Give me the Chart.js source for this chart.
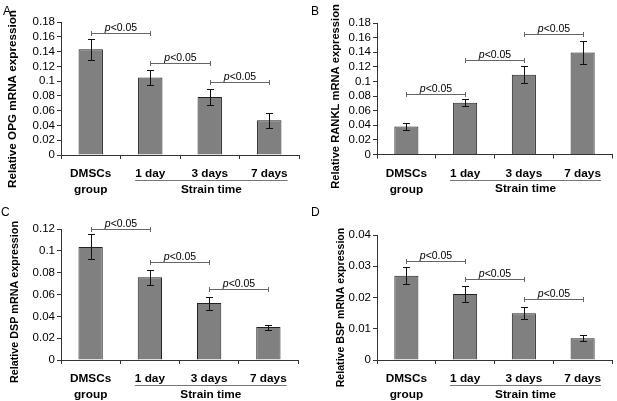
<!DOCTYPE html>
<html>
<head>
<meta charset="utf-8">
<script src="https://cdn.jsdelivr.net/npm/chart.js@4.4.0/dist/chart.umd.min.js"></script>
<style>
    html, body { margin: 0; padding: 0; background: #fff; }
    #wrap { position: relative; width: 617px; height: 401px; overflow: hidden; font-family: "Liberation Sans", Arial, sans-serif; }
    #wrap canvas { position: absolute; }
    .tag { position: absolute; font-size: 12px; line-height: 12px; color: #000; }
</style>
</head>
<body>
<div id="wrap">
    <canvas id="chartA" style="left:0;top:0" width="308" height="200"></canvas>
    <canvas id="chartB" style="left:308px;top:0" width="309" height="200"></canvas>
    <canvas id="chartC" style="left:0;top:200px" width="308" height="201"></canvas>
    <canvas id="chartD" style="left:308px;top:200px" width="309" height="201"></canvas>
    <div class="tag" style="left:3px;top:5px">A</div>
    <div class="tag" style="left:311px;top:5px">B</div>
    <div class="tag" style="left:1px;top:206px">C</div>
    <div class="tag" style="left:311px;top:206px">D</div>
</div>
<script>
// groups on the x axis
const categories = [['DMSCs', 'group'], '1 day', '3 days', '7 days'];
const groupTitle = 'Strain time';
const pLabel = '<0.05';

// A - OPG
const opgValues = [0.143, 0.105, 0.0785, 0.047];
const opgErrors = [0.0145, 0.0097, 0.0111, 0.0098];
const opgBrackets = [0.1655, 0.125, 0.099];   // height of p bracket between group i and i+1

// B - RANKL
const ranklValues = [0.0382, 0.0709, 0.109, 0.1395];
const ranklErrors = [0.0045, 0.0048, 0.0116, 0.0152];
const ranklBrackets = [0.0823, 0.129, 0.165];

// C - DSP
const dspValues = [0.1036, 0.0758, 0.0521, 0.0302];
const dspErrors = [0.0115, 0.0069, 0.006, 0.0023];
const dspBrackets = [0.1203, 0.0899, 0.0646];

// D - BSP
const bspValues = [0.027, 0.0211, 0.015, 0.007];
const bspErrors = [0.0028, 0.0025, 0.002, 0.001];
const bspBrackets = [0.0318, 0.0259, 0.0195];

Chart.defaults.font.family = '"Liberation Sans", Arial, sans-serif';
Chart.defaults.color = '#000';

const labelFont = 11.8;

// error bars, p<0.05 brackets, "Strain time" underline and y title
const annotate = {
    id: 'annotate',
    afterDraw(chart, args, opts) {
        const ctx = chart.ctx;
        const x = chart.scales.x, y = chart.scales.y;
        const meta = chart.getDatasetMeta(0);
        const data = chart.data.datasets[0].data;
        const fam = Chart.defaults.font.family;
        const crisp = v => Math.round(v) + 0.5;
        ctx.save();

        ctx.strokeStyle = '#111';
        ctx.lineWidth = 1;
        opts.errors.forEach(function (e, i) {
            const px = crisp(meta.data[i].x);
            const t = crisp(y.getPixelForValue(data[i] + e));
            const b = crisp(y.getPixelForValue(data[i] - e));
            ctx.beginPath();
            ctx.moveTo(px, t); ctx.lineTo(px, b);
            ctx.moveTo(px - 3.5, t); ctx.lineTo(px + 3.5, t);
            ctx.moveTo(px - 3.5, b); ctx.lineTo(px + 3.5, b);
            ctx.stroke();
        });

        ctx.strokeStyle = '#666';
        ctx.fillStyle = '#000';
        ctx.textBaseline = 'alphabetic';
        opts.brackets.forEach(function (h, i) {
            const x1 = crisp(x.getPixelForValue(i)), x2 = crisp(x.getPixelForValue(i + 1));
            const py = crisp(y.getPixelForValue(h));
            ctx.beginPath();
            ctx.moveTo(x1, py); ctx.lineTo(x2, py);
            ctx.moveTo(x1, py - 2.5); ctx.lineTo(x1, py + 2.5);
            ctx.moveTo(x2, py - 2.5); ctx.lineTo(x2, py + 2.5);
            ctx.stroke();
            ctx.font = 'italic 10.5px ' + fam;
            const wp = ctx.measureText('p').width;
            ctx.font = '10.5px ' + fam;
            const wr = ctx.measureText(pLabel).width;
            const sx = (x1 + x2) / 2 - (wp + wr) / 2;
            ctx.font = 'italic 10.5px ' + fam;
            ctx.fillText('p', sx, py - 2.5);
            ctx.font = '10.5px ' + fam;
            ctx.fillText(pLabel, sx + wp, py - 2.5);
        });

        // underline below the strain-time groups
        ctx.font = 'bold ' + labelFont + 'px ' + fam;
        const first = categories[1], last = categories[categories.length - 1];
        const lx1 = x.getPixelForValue(1) - ctx.measureText(first).width / 2;
        const lx2 = x.getPixelForValue(categories.length - 1) + ctx.measureText(last).width / 2;
        const ly = crisp(chart.chartArea.bottom + 25);
        ctx.strokeStyle = '#777';
        ctx.beginPath();
        ctx.moveTo(lx1, ly); ctx.lineTo(lx2, ly);
        ctx.stroke();
        ctx.textAlign = 'center';
        ctx.textBaseline = 'middle';
        ctx.fillText(groupTitle, (lx1 + lx2) / 2, chart.chartArea.bottom + 34.5);

        // rotated y title
        ctx.translate(opts.titleX, opts.titleY);
        ctx.rotate(-Math.PI / 2);
        ctx.font = 'bold ' + opts.titleSize + 'px ' + fam;
        ctx.fillText(opts.title, 0, 0);
        ctx.restore();
    }
};

function makePanel(id, values, errors, brackets, title, yMax, yStep, box) {
    const el = document.getElementById(id);
    return new Chart(el.getContext('2d'), {
        type: 'bar',
        data: {
            labels: categories,
            datasets: [{
                data: values,
                backgroundColor: '#808080',
                borderColor: '#222',
                borderWidth: 1,
                barPercentage: 0.41,
                categoryPercentage: 1
            }]
        },
        plugins: [annotate],
        options: {
            responsive: false,
            animation: false,
            layout: { padding: { top: box.top, right: box.right, left: 0, bottom: 0 } },
            plugins: {
                legend: { display: false },
                tooltip: { enabled: false },
                annotate: {
                    errors: errors,
                    brackets: brackets,
                    title: title,
                    titleX: box.titleX,
                    titleY: box.titleY,
                    titleSize: box.titleSize
                }
            },
            scales: {
                x: {
                    grid: { drawOnChartArea: false, drawTicks: true, tickLength: 4, color: '#333', offset: true },
                    border: { color: '#333' },
                    ticks: { font: { size: labelFont, weight: 'bold', lineHeight: 1.35 }, padding: 7, maxRotation: 0, autoSkip: false },
                    afterFit: function (s) { s.height = box.xHeight; }
                },
                y: {
                    min: 0,
                    max: yMax,
                    grid: { drawOnChartArea: false, tickLength: 4, color: '#333' },
                    border: { color: '#333' },
                    ticks: {
                        stepSize: yStep,
                        autoSkip: false,
                        font: { size: 11.5 },
                        padding: 2,
                        callback: function (v) { return String(+v.toFixed(3)); }
                    },
                    afterFit: function (s) { s.width = box.left; }
                }
            }
        }
    });
}

makePanel('chartA', opgValues, opgErrors, opgBrackets, 'Relative OPG mRNA expression', 0.18, 0.02,
    { top: 22, right: 9, left: 61, xHeight: 45, titleX: 13, titleY: 99, titleSize: 11.7 });
makePanel('chartB', ranklValues, ranklErrors, ranklBrackets, 'Relative RANKL mRNA expression', 0.18, 0.02,
    { top: 23, right: 5, left: 69, xHeight: 45.5, titleX: 27.5, titleY: 96.5, titleSize: 11.2 });
makePanel('chartC', dspValues, dspErrors, dspBrackets, 'Relative DSP mRNA expression', 0.12, 0.02,
    { top: 29, right: 10, left: 61, xHeight: 41, titleX: 15, titleY: 102, titleSize: 10.75 });
makePanel('chartD', bspValues, bspErrors, bspBrackets, 'Relative BSP mRNA expression', 0.04, 0.01,
    { top: 35, right: 5, left: 69, xHeight: 41, titleX: 33.5, titleY: 107.5, titleSize: 10.6 });
</script>
</body>
</html>
